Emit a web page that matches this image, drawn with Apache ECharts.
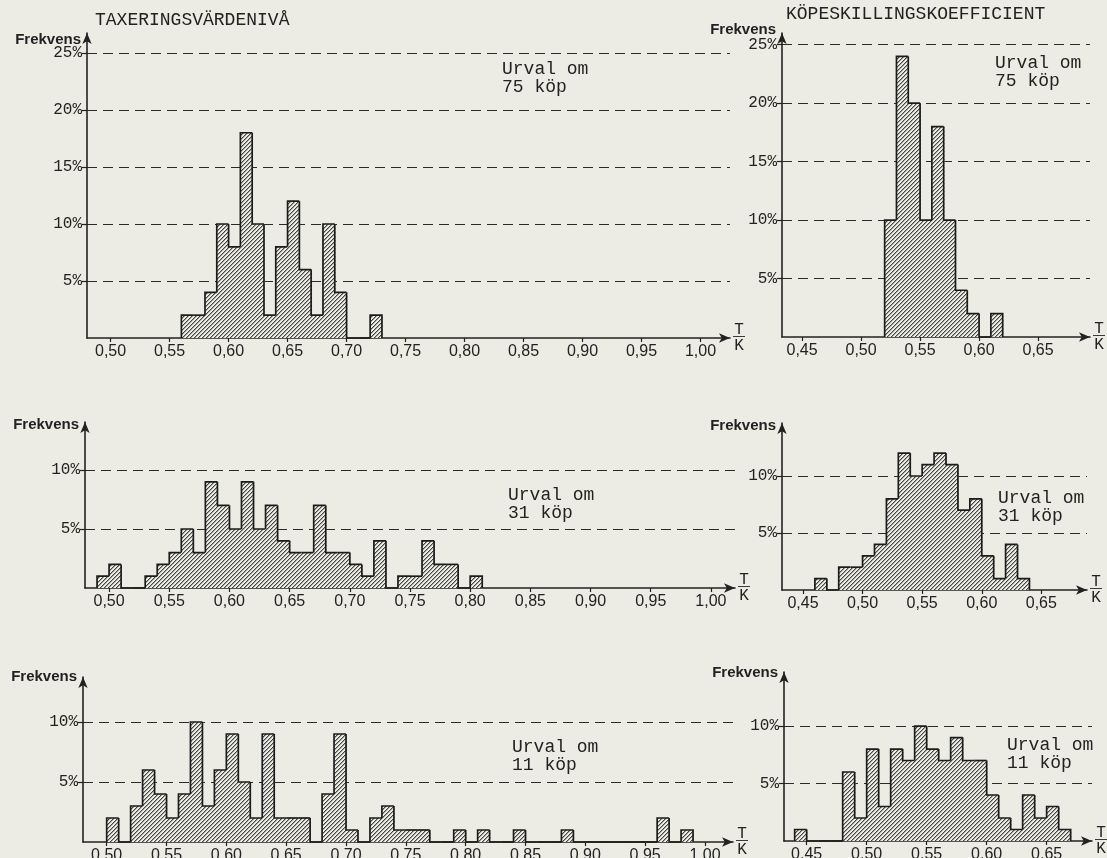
<!DOCTYPE html>
<html>
<head>
<meta charset="utf-8">
<script src="https://cdn.jsdelivr.net/npm/echarts@6/dist/echarts.min.js"></script>
<style>
  html, body { margin: 0; padding: 0; background: #ecece5; }
  #chart { width: 1107px; height: 858px; }
</style>
</head>
<body>
<div id="chart"></div>
<script>
// Class width of every histogram (T/K ratio)
const binWidth = 0.01;

// Axis tick values
const taxTicks = [0.50, 0.55, 0.60, 0.65, 0.70, 0.75, 0.80, 0.85, 0.90, 0.95, 1.00];
const coefTicks = [0.45, 0.50, 0.55, 0.60, 0.65];
const pctTicksHigh = [5, 10, 15, 20, 25];
const pctTicksLow = [5, 10];

// Frequencies (%) per class, starting at the given lower class limit
const tax75Start = 0.56;
const tax75 = [2, 2, 4, 10, 8, 18, 10, 2, 8, 12, 6, 2, 10, 4, 0, 0, 2];
const coef75Start = 0.52;
const coef75 = [10, 24, 20, 10, 18, 10, 4, 2, 0, 2];

const tax31Start = 0.49;
const tax31 = [1, 2, 0, 0, 1, 2, 3, 5, 3, 9, 7, 5, 9, 5, 7, 4, 3, 3, 7, 3, 3, 2, 1, 4, 0, 1, 1, 4, 2, 2, 0, 1];
const coef31Start = 0.46;
const coef31 = [1, 0, 2, 2, 3, 4, 8, 12, 10, 11, 12, 11, 7, 8, 3, 1, 4, 1];

const tax11Start = 0.50;
const tax11 = [2, 0, 3, 6, 4, 2, 4, 10, 3, 6, 9, 5, 2, 9, 2, 2, 2, 0, 4, 9, 1, 0, 2, 3, 1, 1, 1, 0, 0, 1, 0, 1, 0, 0, 1, 0, 0, 0, 1, 0, 0, 0, 0, 0, 0, 0, 2, 0, 1];
const coef11Start = 0.44;
const coef11 = [1, 0, 0, 0, 6, 2, 8, 3, 8, 7, 10, 8, 7, 9, 7, 7, 4, 2, 1, 4, 2, 3, 1];

// Sample-size captions
const sampleLabels = ['Urval om\n75 köp', 'Urval om\n75 köp', 'Urval om\n31 köp', 'Urval om\n31 köp', 'Urval om\n11 köp', 'Urval om\n11 köp'];

const ink = '#222';
const paper = '#ecece5';
const mono = '"Liberation Mono", "DejaVu Sans Mono", monospace';
const sans = '"Liberation Sans", Arial, sans-serif';

// Diagonal hatching used as bar fill
function makeHatch() {
  const c = document.createElement('canvas');
  c.width = 4; c.height = 4;
  const ctx = c.getContext('2d');
  const img = ctx.createImageData(4, 4);
  for (let y = 0; y < 4; y++) {
    for (let x = 0; x < 4; x++) {
      const k = (x + y) % 4;
      const g = k === 3 ? 70 : (k === 0 ? 165 : 236);
      const o = (y * 4 + x) * 4;
      img.data[o] = g; img.data[o + 1] = g; img.data[o + 2] = g - 6; img.data[o + 3] = 255;
    }
  }
  ctx.putImageData(img, 0, 0);
  return c;
}
const hatch = { image: makeHatch(), repeat: 'repeat' };

function toBins(start, values) {
  return values.map((v, i) => [
    +(start + i * binWidth).toFixed(2),
    +(start + (i + 1) * binWidth).toFixed(2),
    v,
    i > 0 ? values[i - 1] : 0,
    i === values.length - 1 ? 1 : 0
  ]);
}

// Each class: hatched rectangle plus the stepped outline of the histogram
function histogramItem(params, api) {
  const x0 = api.value(0), x1 = api.value(1), h = api.value(2), ph = api.value(3), last = api.value(4);
  const base = api.coord([x0, 0]);
  const topL = api.coord([x0, h]);
  const topR = api.coord([x1, h]);
  const prev = api.coord([x0, ph]);
  const baseR = api.coord([x1, 0]);
  const children = [];
  if (h > 0) {
    children.push({
      type: 'rect',
      shape: { x: topL[0], y: topL[1], width: topR[0] - topL[0] + 0.7, height: base[1] - topL[1] },
      style: { fill: hatch }
    });
  }
  const pts = [prev, topL, topR];
  if (last) pts.push(baseR);
  children.push({
    type: 'polyline',
    shape: { points: pts },
    style: { stroke: '#1c1c1c', lineWidth: 1.7, fill: null }
  });
  return { type: 'group', children };
}

// Panel frames (pixels) and axis extents
const panels = [
  { start: tax75Start, data: tax75, ticks: taxTicks, pct: pctTicksHigh, left: 87, top: 33, width: 643, height: 305, xMin: 0.48, xMax: 1.025, yMax: 26.75, nameGap: -7 },
  { start: coef75Start, data: coef75, ticks: coefTicks, pct: pctTicksHigh, left: 782, top: 33, width: 308, height: 304, xMin: 0.433, xMax: 0.694, yMax: 26.0, nameGap: 3 },
  { start: tax31Start, data: tax31, ticks: taxTicks, pct: pctTicksLow, left: 85, top: 422, width: 650, height: 166, xMin: 0.48, xMax: 1.02, yMax: 14.07, nameGap: -3 },
  { start: coef31Start, data: coef31, ticks: coefTicks, pct: pctTicksLow, left: 782, top: 423, width: 305, height: 167, xMin: 0.4324, xMax: 0.6883, yMax: 14.65, nameGap: -3 },
  { start: tax11Start, data: tax11, ticks: taxTicks, pct: pctTicksLow, left: 83, top: 677, width: 650, height: 165, xMin: 0.4802, xMax: 1.0234, yMax: 13.75, nameGap: 0 },
  { start: coef11Start, data: coef11, ticks: coefTicks, pct: pctTicksLow, left: 784, top: 672, width: 308, height: 169, xMin: 0.4311, xMax: 0.6878, yMax: 14.7, nameGap: -1 }
];

const captionPos = [[502, 60], [995, 54], [508, 486], [998, 489], [512, 738], [1007, 736]];

const axisLineStyle = { color: ink, width: 1.6 };

const option = {
  backgroundColor: paper,
  animation: false,
  grid: panels.map(p => ({ left: p.left, top: p.top, width: p.width, height: p.height, containLabel: false, outerBoundsMode: 'none' })),
  xAxis: panels.map((p, i) => ({
    type: 'value',
    gridIndex: i,
    min: p.xMin,
    max: p.xMax,
    name: '{t|T}\n{l|—}\n{k|K}',
    nameLocation: 'end',
    nameGap: 3,
    nameMoveOverlap: false,
    nameTextStyle: {
      rich: {
        t: { fontFamily: mono, fontSize: 16, color: ink, lineHeight: 11, align: 'center' },
        l: { fontFamily: sans, fontSize: 12, color: ink, lineHeight: 4, align: 'center' },
        k: { fontFamily: mono, fontSize: 16, color: ink, lineHeight: 13, align: 'center' }
      }
    },
    axisLine: { show: true, onZero: false, lineStyle: axisLineStyle, symbol: ['none', 'arrow'], symbolSize: [7, 11] },
    axisTick: { show: true, customValues: p.ticks, length: 4, lineStyle: { color: ink, width: 1.2 } },
    axisLabel: {
      customValues: p.ticks,
      margin: 6,
      fontFamily: sans,
      fontSize: 16,
      color: ink,
      formatter: v => v.toFixed(2).replace('.', ',')
    },
    splitLine: { show: false }
  })),
  yAxis: panels.map((p, i) => ({
    type: 'value',
    gridIndex: i,
    min: 0,
    max: p.yMax,
    interval: 5,
    name: 'Frekvens',
    nameLocation: 'end',
    nameGap: p.nameGap,
    nameMoveOverlap: false,
    nameTextStyle: { fontFamily: sans, fontWeight: 'bold', fontSize: 15, color: ink, align: 'right', verticalAlign: 'middle', padding: [0, 6, 0, 0] },
    axisLine: { show: true, lineStyle: axisLineStyle, symbol: ['none', 'arrow'], symbolSize: [7, 11] },
    axisTick: { show: true, customValues: p.pct, length: 5, lineStyle: { color: ink, width: 1.2 } },
    axisLabel: { customValues: p.pct, margin: 5, fontFamily: mono, fontSize: 16, color: ink, formatter: v => v + '%' },
    splitLine: { show: true, lineStyle: { color: '#2a2a2a', width: 1, type: [10, 6] } }
  })),
  series: panels.map((p, i) => ({
    type: 'custom',
    xAxisIndex: i,
    yAxisIndex: i,
    clip: false,
    renderItem: histogramItem,
    dimensions: ['from', 'to', 'pct', 'prev', 'last'],
    encode: { x: [0, 1], y: 2 },
    data: toBins(p.start, p.data),
    z: 3
  })),
  graphic: [
    { type: 'text', left: 95, top: 11, style: { text: 'TAXERINGSVÄRDENIVÅ', font: '18px ' + mono, fill: ink } },
    { type: 'text', left: 786, top: 5, style: { text: 'KÖPESKILLINGSKOEFFICIENT', font: '18px ' + mono, fill: ink } }
  ].concat(sampleLabels.map((t, i) => ({
    type: 'text',
    left: captionPos[i][0],
    top: captionPos[i][1],
    z: 10,
    style: { text: t, font: '18px ' + mono, fill: ink, lineHeight: 18 }
  })))
};

const chart = echarts.init(document.getElementById('chart'), null, { renderer: 'canvas' });
chart.setOption(option);
</script>
</body>
</html>
